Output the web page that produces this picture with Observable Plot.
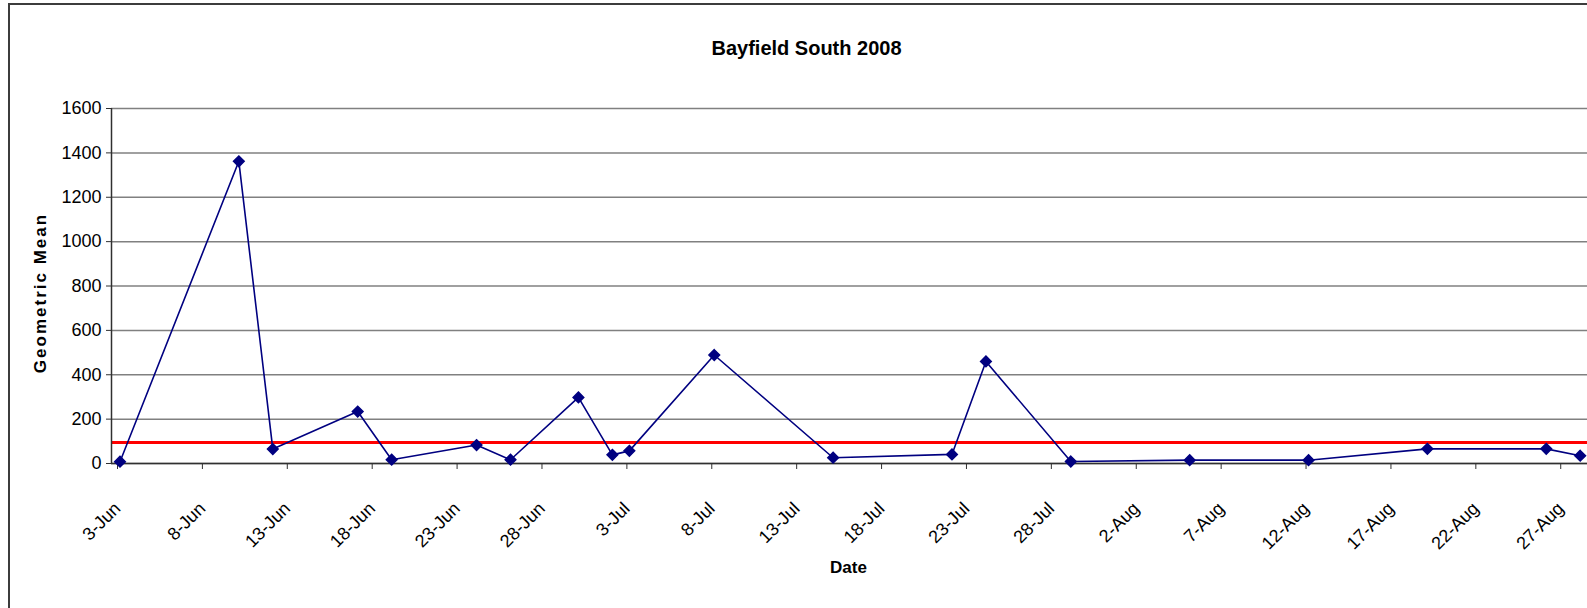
<!DOCTYPE html>
<html>
<head>
<meta charset="utf-8">
<script src="https://cdn.jsdelivr.net/npm/d3@7"></script>
<script src="https://cdn.jsdelivr.net/npm/@observablehq/plot@0.6"></script>
<style>
  html, body { margin: 0; padding: 0; background: #fff; }
  #wrap { position: relative; width: 1587px; height: 608px; overflow: hidden; }
  #frame { position: absolute; left: 8px; top: 3px; right: -10px; bottom: -10px;
           border-left: 2px solid #3c3c3c; border-top: 2px solid #3c3c3c; pointer-events: none; }
  svg { font-family: "Liberation Sans Narrow", "Arial Narrow", "Liberation Sans", Arial, sans-serif; }
</style>
</head>
<body>
<div id="wrap"><div id="frame"></div></div>
<script>
// ---- data ----
const dates = ["2008-06-03","2008-06-10","2008-06-12","2008-06-17","2008-06-19","2008-06-24","2008-06-26",
  "2008-06-30","2008-07-02","2008-07-03","2008-07-08","2008-07-15","2008-07-22","2008-07-24","2008-07-29",
  "2008-08-05","2008-08-12","2008-08-19","2008-08-26","2008-08-28"];
const geoMean = [8, 1362, 65, 234, 17, 83, 17, 298, 39, 57, 489, 26, 41, 460, 9, 15, 15, 66, 66, 35];
const standard = 95;
const xTickLabels = ["3-Jun","8-Jun","13-Jun","18-Jun","23-Jun","28-Jun","3-Jul","8-Jul","13-Jul","18-Jul",
  "23-Jul","28-Jul","2-Aug","7-Aug","12-Aug","17-Aug","22-Aug","27-Aug"];
const yTicks = [0, 200, 400, 600, 800, 1000, 1200, 1400, 1600];
const title = "Bayfield South 2008";
const xLabel = "Date";
const yLabel = "Geometric Mean";

// ---- build ----
const DAY = 86400000;
const parseTick = d3.utcParse("%d-%b-%Y");
const tickDates = xTickLabels.map(s => parseTick(s + "-2008"));
const fmt = d3.utcFormat("%-d-%b");
// Excel date axis: each point sits mid-day
const data = dates.map((d, i) => ({date: new Date(Date.parse(d + "T12:00:00Z")), value: geoMean[i]}));
const x0 = tickDates[0];
const x1 = new Date(+x0 + 86.93 * DAY);

const chart = Plot.plot({
  width: 1587,
  height: 608,
  marginLeft: 111,
  marginRight: 0,
  marginTop: 108,
  marginBottom: 145,
  style: {fontSize: "17px", color: "#000", background: "transparent"},
  x: {type: "utc", domain: [x0, x1]},
  y: {domain: [0, 1600]},
  marks: [
    Plot.gridY(yTicks, {stroke: "#808080", strokeOpacity: 1, strokeWidth: 1.5}),
    Plot.ruleY([standard], {stroke: "#ff0000", strokeWidth: 3}),
    Plot.ruleY([0], {stroke: "#303030", strokeWidth: 1.5}),
    Plot.ruleX([x0], {y1: 0, y2: 1600, stroke: "#303030", strokeWidth: 1.5}),
    Plot.axisY({ticks: yTicks, tickFormat: d3.format("d"), tickSize: 5, tickPadding: 5, label: null,
      fontSize: 18, stroke: "#303030"}),
    Plot.axisX({ticks: tickDates, tickFormat: fmt, tickSize: 6, tickPadding: 36, tickRotate: -45,
      label: null, fontSize: 18, dx: 6, stroke: "#303030"}),
    Plot.line(data, {x: "date", y: "value", stroke: "#000080", strokeWidth: 1.6}),
    Plot.dot(data, {x: "date", y: "value", symbol: "diamond2", r: 4.8, fill: "#000080", stroke: "#000080"}),
    Plot.text([title], {frameAnchor: "top", dx: -43, dy: -68, fontSize: 20, fontWeight: "bold", text: d => d}),
    Plot.text([xLabel], {frameAnchor: "bottom", dx: -1, dy: 109, fontSize: 17, fontWeight: "bold", text: d => d}),
    Plot.text([yLabel], {frameAnchor: "left", textAnchor: "middle", dx: -71, dy: 7, rotate: -90, fontSize: 17,
      fontWeight: "bold", text: d => d, className: "ylab"})
  ]
});
d3.select(chart).selectAll(".ylab text").style("letter-spacing", "2px");
d3.select(chart).style("position", "absolute").style("left", "0").style("top", "0");
document.getElementById("wrap").prepend(chart);
</script>
</body>
</html>
